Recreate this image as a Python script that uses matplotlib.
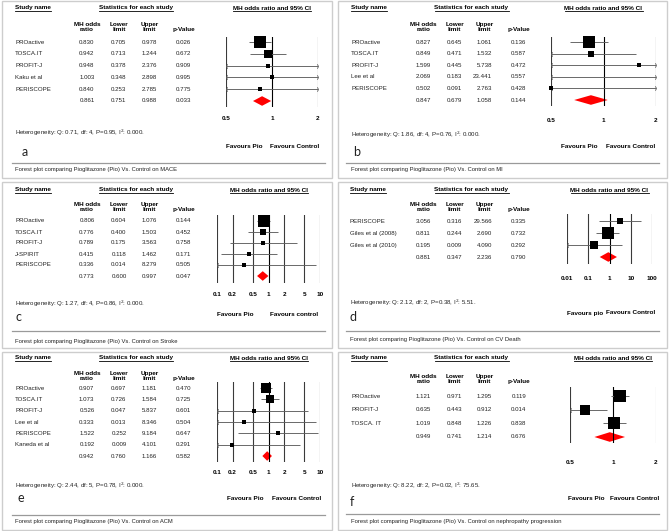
import matplotlib
matplotlib.use("Agg")
import matplotlib.pyplot as plt
import numpy as np
from matplotlib.transforms import blended_transform_factory
from matplotlib.lines import Line2D
from matplotlib.patches import Rectangle
from matplotlib.path import Path

plt.rcParams['font.family'] = ['Liberation Sans', 'DejaVu Sans']

# ---------------- DATA ----------------
a_studies = ["PROactive", "TOSCA.IT", "PROFIT-J", "Kaku et al", "PERISCOPE"]
a_or = [0.830, 0.942, 0.948, 1.003, 0.840]
a_lo = [0.705, 0.713, 0.378, 0.348, 0.253]
a_hi = [0.978, 1.244, 2.376, 2.898, 2.785]
a_p = [0.026, 0.672, 0.909, 0.995, 0.775]
a_w = [60, 25, 4, 4, 3.5]
a_sum = [0.861, 0.751, 0.988, 0.033]
a_het = "Heterogeneity: Q: 0.71, df: 4, P=0.95, I$^2$: 0.000."
a_ticks = [0.5, 1, 2]
a_ticklabels = ["0.5", "1", "2"]
a_fav = ["Favours Pio", "Favours Control"]
a_caption = "Forest plot comparing Pioglitazone (Pio) Vs. Control on MACE"

b_studies = ["PROactive", "TOSCA.IT", "PROFIT-J", "Lee et al", "PERISCOPE"]
b_or = [0.827, 0.849, 1.599, 2.069, 0.502]
b_lo = [0.645, 0.471, 0.445, 0.183, 0.091]
b_hi = [1.061, 1.532, 5.738, 23.441, 2.763]
b_p = [0.136, 0.587, 0.472, 0.557, 0.428]
b_w = [70, 12, 3.5, 1, 3.5]
b_sum = [0.847, 0.679, 1.058, 0.144]
b_het = "Heterogeneity: Q: 1.86, df: 4, P=0.76, I$^2$: 0.000."
b_ticks = [0.5, 1, 2]
b_ticklabels = ["0.5", "1", "2"]
b_fav = ["Favours Pio", "Favours Control"]
b_caption = "Forest plot comparing Pioglitazone (Pio) Vs. Control on MI"

c_studies = ["PROactive", "TOSCA.IT", "PROFIT-J", "J-SPIRIT", "PERISCOPE"]
c_or = [0.806, 0.776, 0.789, 0.415, 0.336]
c_lo = [0.604, 0.400, 0.175, 0.118, 0.014]
c_hi = [1.076, 1.503, 3.563, 1.462, 8.279]
c_p = [0.144, 0.452, 0.758, 0.171, 0.505]
c_w = [80, 14, 5, 5, 4]
c_sum = [0.773, 0.600, 0.997, 0.047]
c_het = "Heterogeneity: Q: 1.27, df: 4, P=0.86, I$^2$: 0.000."
c_ticks = [0.1, 0.2, 0.5, 1, 2, 5, 10]
c_ticklabels = ["0.1", "0.2", "0.5", "1", "2", "5", "10"]
c_fav = ["Favours Pio", "Favours control"]
c_caption = "Forest plot comparing Pioglitazone (Pio) Vs. Control on Stroke"

d_studies = ["PERISCOPE", "Giles et al (2008)", "Giles et al (2010)"]
d_or = [3.056, 0.811, 0.195]
d_lo = [0.316, 0.244, 0.009]
d_hi = [29.566, 2.690, 4.090]
d_p = [0.335, 0.732, 0.292]
d_w = [12, 68, 23]
d_sum = [0.881, 0.347, 2.236, 0.790]
d_het = "Heterogeneity: Q: 2.12, df: 2, P=0.38, I$^2$: 5.51."
d_ticks = [0.01, 0.1, 1, 10, 100]
d_ticklabels = ["0.01", "0.1", "1", "10", "100"]
d_fav = ["Favours pio", "Favours Control"]
d_caption = "Forest plot comparing Pioglitazone (Pio) Vs. Control on CV Death"

e_studies = ["PROactive", "TOSCA.IT", "PROFIT-J", "Lee et al", "PERISCOPE", "Kaneda et al"]
e_or = [0.907, 1.073, 0.526, 0.333, 1.522, 0.192]
e_lo = [0.697, 0.726, 0.047, 0.013, 0.252, 0.009]
e_hi = [1.181, 1.584, 5.837, 8.346, 9.184, 4.101]
e_p = [0.470, 0.725, 0.601, 0.504, 0.647, 0.291]
e_w = [48, 23, 3.5, 3.5, 3.5, 3.5]
e_sum = [0.942, 0.760, 1.166, 0.582]
e_het = "Heterogeneity: Q: 2.44, df: 5, P=0.78, I$^2$: 0.000."
e_ticks = [0.1, 0.2, 0.5, 1, 2, 5, 10]
e_ticklabels = ["0.1", "0.2", "0.5", "1", "2", "5", "10"]
e_fav = ["Favours Pio", "Favours Control"]
e_caption = "Forest plot comparing Pioglitazone (Pio) Vs. Control on ACM"

f_studies = ["PROactive", "PROFIT-J", "TOSCA. IT"]
f_or = [1.121, 0.635, 1.019]
f_lo = [0.971, 0.443, 0.848]
f_hi = [1.295, 0.912, 1.226]
f_p = [0.119, 0.014, 0.838]
f_w = [76, 48, 65]
f_sum = [0.949, 0.741, 1.214, 0.676]
f_het = "Heterogeneity: Q: 8.22, df: 2, P=0.02, I$^2$: 75.65."
f_ticks = [0.5, 1, 2]
f_ticklabels = ["0.5", "1", "2"]
f_fav = ["Favours Pio", "Favours Control"]
f_caption = "Forest plot comparing Pioglitazone (Pio) Vs. Control on nephropathy progression"

col_headers = ["MH odds\nratio", "Lower\nlimit", "Upper\nlimit", "p-Value"]

# ---------------- LAYOUT (pixels) ----------------
W, H = 669, 531
fig = plt.figure(figsize=(W / 100, H / 100), dpi=100)
fig.patch.set_facecolor("white")

BODY = 4.4
BOLD = 4.6

COLS_L = [87, 119, 149.5, 184]
COLS_R = [89.5, 120.5, 150.5, 184.5]

layouts = {
    "a": dict(ox=0, oy=0, name_x=15, cols=COLS_L, head_y=8, colhead_y=32,
              rows=(42, 101), plot=(226, 318, 37, 107), tick_y=119, het_y=133,
              letter=(22, 152), fav_y=147, fav_x=(244, 294.5), sep_y=163, cap_y=169,
              border=(2, 1.5, 332, 178)),
    "b": dict(ox=334, oy=0, name_x=17, cols=COLS_R, head_y=8, colhead_y=32,
              rows=(42, 100), plot=(217, 322, 37, 106), tick_y=120, het_y=135,
              letter=(19, 152), fav_y=147, fav_x=(245.5, 296.7), sep_y=163, cap_y=169,
              border=(338, 1.5, 667, 178)),
    "c": dict(ox=0, oy=177, name_x=15, cols=COLS_L, head_y=13, colhead_y=35,
              rows=(44, 99), plot=(217, 320, 38, 106), tick_y=117, het_y=127,
              letter=(15, 140), fav_y=138, fav_x=(235, 294.5), sep_y=154, cap_y=164,
              border=(2, 182.5, 332, 348)),
    "d": dict(ox=334, oy=177, name_x=16, cols=COLS_R, head_y=13, colhead_y=35,
              rows=(44, 80), plot=(233, 318, 37, 87), tick_y=102, het_y=126,
              letter=(16, 140), fav_y=136, fav_x=(251, 297), sep_y=154, cap_y=163,
              border=(338, 182.5, 667, 348)),
    "e": dict(ox=0, oy=354, name_x=15, cols=COLS_L, head_y=4, colhead_y=27,
              rows=(34, 102), plot=(217, 320, 28, 108), tick_y=119, het_y=132,
              letter=(17, 144), fav_y=144, fav_x=(245, 297), sep_y=161, cap_y=167,
              border=(2, 352, 332, 529.5)),
    "f": dict(ox=334, oy=354, name_x=17, cols=COLS_R, head_y=4, colhead_y=30,
              rows=(42, 83), plot=(236, 322, 33, 89), tick_y=108, het_y=132,
              letter=(16, 148), fav_y=144, fav_x=(252.5, 301), sep_y=160, cap_y=167,
              border=(338, 352, 667, 529.5)),
}

chev_left = Path([(0.5, 1), (0, 0), (0.5, -1)], [Path.MOVETO, Path.LINETO, Path.LINETO])
chev_right = Path([(-0.5, 1), (0, 0), (-0.5, -1)], [Path.MOVETO, Path.LINETO, Path.LINETO])

underline_targets = []


def fx(L, x):
    return (L["ox"] + x) / W


def fy(L, y):
    return 1 - (L["oy"] + y) / H


def draw_panel(key, studies, ors, los, his, ps, ws, summ, het, ticks, ticklabels,
               fav, caption, grid_colors=None):
    L = layouts[key]
    # border
    bx0, by0, bx1, by1 = L["border"]
    fig.add_artist(Rectangle((bx0 / W, 1 - by1 / H), (bx1 - bx0) / W, (by1 - by0) / H,
                             transform=fig.transFigure, fill=False,
                             edgecolor="#cdcdcd", lw=1.0))
    # forest axes
    xlo, xhi, ytop, ybot = L["plot"]
    ax = fig.add_axes([fx(L, xlo), fy(L, ybot), (xhi - xlo) / W, (ybot - ytop) / H])
    ax.set_xscale("log")
    xmin, xmax = ticks[0], ticks[-1]
    ax.set_xlim(xmin, xmax)
    n = len(studies)
    r0, rN = L["rows"]
    step = (rN - r0) / n
    ax.set_ylim(n + (ybot - rN) / step, -(r0 - ytop) / step)
    ax.axis("off")

    for i, t in enumerate(ticks):
        col = "#000000" if t == 1 else "#3a3a3a"
        if grid_colors is not None:
            col = grid_colors[i]
        ax.axvline(t, color=col, lw=0.8)

    rows = np.arange(n)
    for i in range(n):
        lo_c = max(los[i], xmin)
        hi_c = min(his[i], xmax)
        ax.plot([lo_c, hi_c], [rows[i], rows[i]], color="#5e5e5e", lw=0.65,
                solid_capstyle="butt")
        if los[i] < xmin:
            ax.plot([xmin], [rows[i]], marker=chev_left, ms=3.2, color="#5e5e5e",
                    mew=0.6, mfc="none", clip_on=False)
        if his[i] > xmax:
            ax.plot([xmax], [rows[i]], marker=chev_right, ms=3.2, color="#5e5e5e",
                    mew=0.6, mfc="none", clip_on=False)
        if xmin <= ors[i] <= xmax:
            side = 1.35 * np.sqrt(ws[i]) + 0.9
            ax.plot([ors[i]], [rows[i]], marker="s", ms=side * 0.72, color="black",
                    mew=0, clip_on=False)
    # summary diamond
    h = 4.8 / step
    ax.fill([summ[1], summ[0], summ[2], summ[0]], [n, n - h, n, n + h],
            color="#ff0000", lw=0)

    # tick labels
    tr_tick = blended_transform_factory(ax.transData, fig.transFigure)
    for t, lab in zip(ticks, ticklabels):
        fig.text(t, fy(L, L["tick_y"]), lab, transform=tr_tick, ha="center",
                 va="center", fontsize=BOLD, fontweight="bold")

    # headers
    t1 = fig.text(fx(L, L["name_x"]), fy(L, L["head_y"]), "Study name", ha="left",
                  va="center", fontsize=BOLD, fontweight="bold")
    t2 = fig.text(fx(L, (L["cols"][0] + L["cols"][3]) / 2 + 0.5), fy(L, L["head_y"]),
                  "Statistics for each study", ha="center", va="center",
                  fontsize=BOLD, fontweight="bold")
    t3 = fig.text(fx(L, (xlo + xhi) / 2), fy(L, L["head_y"]), "MH odds ratio and 95% CI",
                  ha="center", va="center", fontsize=BOLD, fontweight="bold")
    underline_targets.extend([t1, t2, t3])
    for c, lab in zip(L["cols"], col_headers):
        fig.text(fx(L, c), fy(L, L["colhead_y"]), lab, ha="center", va="bottom",
                 fontsize=BOLD, fontweight="bold", linespacing=1.05, multialignment="center")

    # table rows
    tr_row = blended_transform_factory(fig.transFigure, ax.transData)
    for i in range(n):
        fig.text(fx(L, L["name_x"]), rows[i], studies[i], transform=tr_row,
                 ha="left", va="center", fontsize=BODY, color="#222222")
        for c, v in zip(L["cols"], [ors[i], los[i], his[i], ps[i]]):
            fig.text(fx(L, c + 7.5), rows[i], f"{v:.3f}", transform=tr_row,
                     ha="right", va="center", fontsize=BODY, color="#222222")
    for c, v in zip(L["cols"], summ):
        fig.text(fx(L, c + 7.5), n, f"{v:.3f}", transform=tr_row,
                 ha="right", va="center", fontsize=BODY, color="#222222")

    # heterogeneity
    fig.text(fx(L, L["name_x"]), fy(L, L["het_y"]), het, ha="left", va="center",
             fontsize=BODY, color="#222222")
    # letter
    fig.text(fx(L, L["letter"][0]), fy(L, L["letter"][1]), key, ha="left", va="center",
             fontsize=9, family=["Lato", "DejaVu Sans"], color="#222222")
    # favours
    for xx, lab in zip(L["fav_x"], fav):
        fig.text(fx(L, xx), fy(L, L["fav_y"]), lab, ha="center", va="center",
                 fontsize=BOLD, fontweight="bold")
    # separator + caption
    fig.add_artist(Line2D([fx(L, 12), fx(L, 325)], [fy(L, L["sep_y"])] * 2,
                          transform=fig.transFigure, color="#9a9a9a", lw=0.9))
    fig.text(fx(L, L["name_x"]), fy(L, L["cap_y"]), caption, ha="left", va="center",
             fontsize=4.2, color="#222222")


draw_panel("a", a_studies, a_or, a_lo, a_hi, a_p, a_w, a_sum, a_het, a_ticks,
           a_ticklabels, a_fav, a_caption)
draw_panel("b", b_studies, b_or, b_lo, b_hi, b_p, b_w, b_sum, b_het, b_ticks,
           b_ticklabels, b_fav, b_caption)
draw_panel("c", c_studies, c_or, c_lo, c_hi, c_p, c_w, c_sum, c_het, c_ticks,
           c_ticklabels, c_fav, c_caption)
draw_panel("d", d_studies, d_or, d_lo, d_hi, d_p, d_w, d_sum, d_het, d_ticks,
           d_ticklabels, d_fav, d_caption)
draw_panel("e", e_studies, e_or, e_lo, e_hi, e_p, e_w, e_sum, e_het, e_ticks,
           e_ticklabels, e_fav, e_caption)
draw_panel("f", f_studies, f_or, f_lo, f_hi, f_p, f_w, f_sum, f_het, f_ticks,
           f_ticklabels, f_fav, f_caption,
           grid_colors=["#3a3a3a", "#000000", "#b5b5b5"])

# underline headers
fig.canvas.draw()
renderer = fig.canvas.get_renderer()
for t in underline_targets:
    bb = t.get_window_extent(renderer).transformed(fig.transFigure.inverted())
    fig.add_artist(Line2D([bb.x0, bb.x1], [bb.y0 - 0.8 / H] * 2,
                          transform=fig.transFigure, color="black", lw=0.6))

fig.savefig("out.png", dpi=100, facecolor="white")
